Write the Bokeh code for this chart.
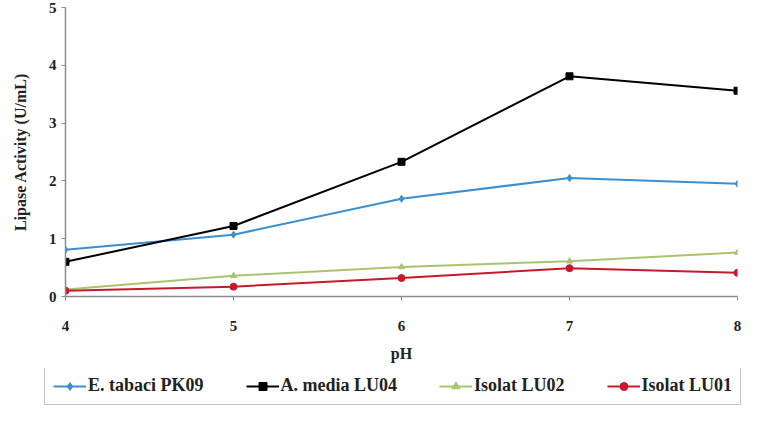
from bokeh.plotting import figure
from bokeh.models import Legend, LegendItem, Range1d, FixedTicker
from bokeh.embed import file_html
from bokeh.resources import INLINE

ph = [4, 5, 6, 7, 8]
tabaci = [0.81, 1.07, 1.69, 2.05, 1.95]
media = [0.60, 1.22, 2.33, 3.81, 3.56]
lu02 = [0.12, 0.36, 0.51, 0.61, 0.76]
lu01 = [0.10, 0.17, 0.32, 0.49, 0.41]
names = ["E. tabaci PK09", "A. media LU04", "Isolat LU02", "Isolat LU01"]
yticks = [0, 1, 2, 3, 4, 5]

FONT = "Liberation Serif"
colors = ["#3b8fcf", "#000000", "#a9c46e", "#c8182c"]
markers = ["diamond", "square", "triangle", "circle"]
msizes = [7, 7, 6, 7]
series = [tabaci, media, lu02, lu01]

p = figure(width=755, height=368, output_backend="svg", toolbar_location=None,
           x_range=Range1d(4, 8), y_range=Range1d(0, 5),
           min_border_left=65, min_border_right=18, min_border_top=7, min_border_bottom=72)

for ys, c, mk, ms in zip(series, colors, markers, msizes):
    p.line(ph, ys, line_color=c, line_width=2)
    p.scatter(ph, ys, marker=mk, size=ms, color=c)

p.xgrid.visible = False
p.ygrid.visible = False
p.outline_line_color = None

for ax in (p.xaxis[0], p.yaxis[0]):
    ax.axis_line_color = "#8c8c8c"
    ax.axis_line_width = 1.5
    ax.major_tick_line_color = "#8c8c8c"
    ax.major_tick_out = 4
    ax.major_tick_in = 0
    ax.minor_tick_line_color = None
    ax.major_label_text_font = FONT
    ax.major_label_text_font_style = "bold"
    ax.major_label_text_font_size = "15px"
    ax.major_label_text_color = "#222222"
    ax.axis_label_text_font = FONT
    ax.axis_label_text_font_style = "bold"
    ax.axis_label_text_color = "#222222"

p.xaxis.ticker = FixedTicker(ticks=ph)
p.yaxis.ticker = FixedTicker(ticks=yticks)
p.xaxis.axis_label = "pH"
p.xaxis.axis_label_text_font_size = "16px"
p.xaxis.major_label_standoff = 20
p.xaxis.axis_label_standoff = 11
p.yaxis.axis_label = "Lipase Activity (U/mL)"
p.yaxis.axis_label_text_font_size = "16px"
p.yaxis.major_label_standoff = 5
p.yaxis.axis_label_standoff = 17

# legend strip: same series drawn outside its visible range, only the legend shows
q = figure(width=755, height=41, output_backend="svg", toolbar_location=None,
           x_range=Range1d(100, 101), y_range=Range1d(100, 101),
           x_axis_location=None, y_axis_location=None,
           min_border=0, min_border_left=0, min_border_right=0,
           min_border_top=0, min_border_bottom=0)
q.xgrid.visible = False
q.ygrid.visible = False
q.outline_line_color = None
items = []
for name, ys, c, mk, ms in zip(names, series, colors, markers, msizes):
    rl = q.line(ph, ys, line_color=c, line_width=2)
    rm = q.scatter(ph, ys, marker=mk, size=ms, color=c)
    items.append(LegendItem(label=name, renderers=[rl, rm]))

legend = Legend(items=items, orientation="horizontal", location=(44, 4))
legend.label_text_font = FONT
legend.label_text_font_style = "bold"
legend.label_text_font_size = "18px"
legend.label_text_color = "#222222"
legend.glyph_width = 33
legend.label_standoff = 2
legend.spacing = 42
legend.padding = 8
legend.margin = 0
legend.border_line_color = "#8c8c8c"
legend.border_line_width = 1.5
legend.background_fill_alpha = 1
q.add_layout(legend, "center")

open("out.html", "w").write(file_html([p, q], INLINE))
